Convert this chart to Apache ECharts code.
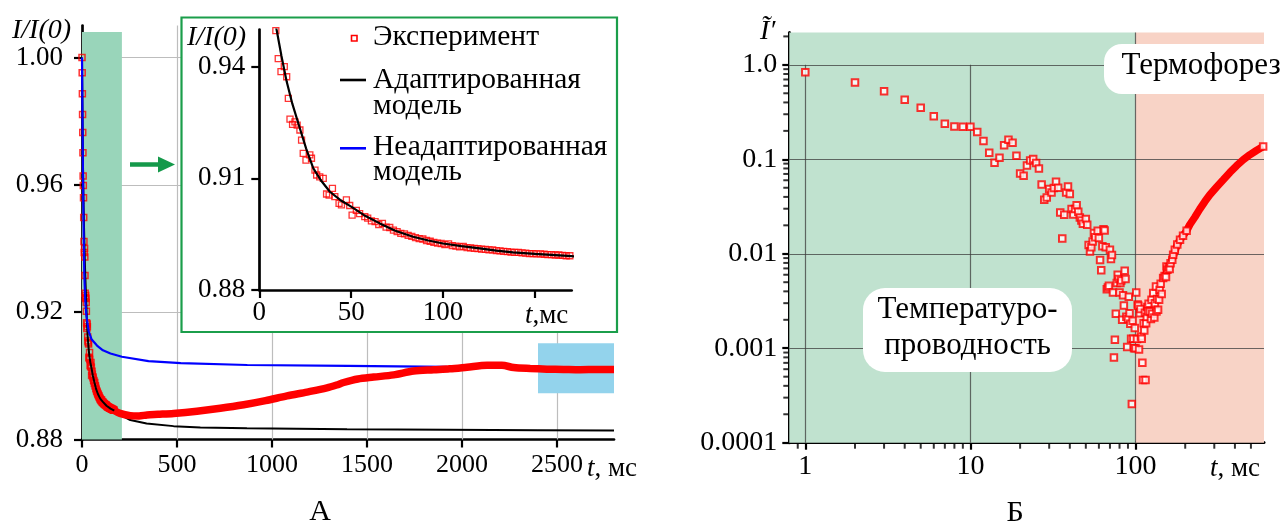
<!DOCTYPE html>
<html><head><meta charset="utf-8">
<script src="https://cdn.jsdelivr.net/npm/echarts@6/dist/echarts.min.js"></script>
<style>html,body{margin:0;padding:0;background:#fff}#c{width:1282px;height:526px}</style>
</head><body><div id="c"></div>
<script>
// ---------- Panel A data (t in ms, I/I(0)) ----------
const expT = [0,1,2,3,4,5,6,7,8,9,10.3,11.8,13.6,14.9,15.8,16.7,18.1,19.4,20.6,22.1,23,23.9,25.4,27.5,28.4,30.3,31.2,32.9,34.8,36.6,38,39.8,41.1,43.4,44.7,47.4,49.2,50.5,52.8,54.6,57.4,
  59,61,63,65,67,69,71,73,75,77,79,81,83,85,87,89,91,93,95,97,99,101,103,105,107,109,111,113,115,117,119,121,123,125,127,129,131,133,135,137,139,141,143,145,147,149,151,153,155,157,159,161,163,165,167,169];
const expV = [1.0,0.9952,0.9886,0.9821,0.9764,0.9701,0.9628,0.9598,0.9559,0.9497,0.9422,0.9387,0.94,0.9373,0.9315,0.9259,0.9245,0.9252,0.9243,0.923,0.9203,0.9167,0.9149,0.9163,0.9154,0.9122,0.9109,0.9104,0.91,0.9058,0.9055,0.9073,0.9051,0.9033,0.9029,0.9042,0.9027,0.9001,0.9014,0.9005,0.8997,
  0.8993,0.8986,0.8984,0.8976,0.8979,0.8969,0.8968,0.8961,0.8957,0.8952,0.8951,0.8947,0.8944,0.8941,0.8938,0.8937,0.8933,0.8931,0.8928,0.8926,0.8925,0.8922,0.8924,0.8919,0.8918,0.8916,0.8917,0.8914,0.8913,0.8912,0.8911,0.891,0.8909,0.8908,0.8908,0.8906,0.8905,0.8904,0.8903,0.8902,0.8901,0.8901,0.89,0.8899,0.8898,0.8898,0.8897,0.8897,0.8896,0.8895,0.8895,0.8894,0.8894,0.8893,0.8892,0.8892];
// dense experimental band, t >= 170 ms
const bandT = [170,200,254,300,342,400,482,605,728,851,966,1079,1184,1289,1340,1377,1452,1535,1640,1745,1851,1935,2026,2132,2210,2272,2359,2447,2535,2622,2711,2800];
const bandV = [0.8891,0.8882,0.8875,0.8874,0.8877,0.8879,0.8882,0.8889,0.8898,0.8909,0.8922,0.8937,0.8949,0.8962,0.8971,0.8979,0.899,0.8996,0.9003,0.9015,0.9019,0.9022,0.9027,0.9033,0.9033,0.9026,0.9023,0.9021,0.902,0.9019,0.902,0.902];
// adapted model (black)
const adaptT = [0,1,2,3,4,5,6,7,8,9.4,12,14.9,18,22.1,25.5,29.4,33.5,38.4,44,50,57,65.6,74,83.7,92,100,110,120,129,138,150,170,200,254,340,482,623,868,1395,1921,2400,2800];
const adaptV = [1.0,0.993,0.986,0.979,0.973,0.967,0.962,0.958,0.954,0.950,0.943,0.936,0.930,0.9234,0.918,0.9127,0.9095,0.9064,0.9042,0.9024,0.9001,0.8979,0.8959,0.8943,0.8933,0.8925,0.8918,0.8912,0.8906,0.8901,0.8897,0.8891,0.8878,0.8861,0.885,0.8842,0.8838,0.8835,0.8832,0.8831,0.8829,0.8828];
// non-adapted model (blue)
const nonT = [0,2,5,8,12,17,23,35,50,79,110,150,210,350,520,870,1400,1920,2400,2800];
const nonV = [1.0,0.985,0.965,0.948,0.932,0.924,0.919,0.914,0.9115,0.9095,0.908,0.907,0.906,0.9046,0.904,0.9034,0.9031,0.9028,0.9026,0.9025];
// ticks
const xTicksA = [0,500,1000,1500,2000,2500];
const yTicksA = [0.88,0.92,0.96,1.00];
const xTicksIn = [0,50,100,150];
const xLabelsIn = [0,50,100];
const yTicksIn = [0.88,0.91,0.94];

// ---------- Panel B data (t in ms, derivative) ----------
const bT = [1,2,3,4,5,6,7,8,9,10,11,12,13,14,15,16,17,18,19,20,21,22,23,24,25,26,27,28,29,30,31,32,33,34,35,36,37,38,39,40,41,42,43,44,45,46,47,48,50,51,52,53,54,55,56,57,59,60,61,62,63,64,65,66,67,68,69,70,71,72,73,74,75,76,77,78,79,80,81,82,83,84,85,86,87,88,89,90,91,92,93,94,95,96,97,98,99,100,101,102,103,104,105,106,107,108,109,110,111,112,113,114,115,116,117,118,119,120,122,124,125,126,128,130,131,133,134,135,137,139,140,142,144,147,150,153,154,156,159,161,163,167,169,173,179,186,194,204,593];
const bV = [0.837,0.650,0.526,0.426,0.351,0.286,0.238,0.222,0.221,0.221,0.194,0.156,0.117,0.0918,0.104,0.141,0.161,0.150,0.109,0.0708,0.0669,0.0861,0.0972,0.1005,0.0912,0.080,0.0542,0.0373,0.0395,0.0484,0.0445,0.0496,0.0578,0.0499,0.0273,0.0145,0.0259,0.0445,0.0515,0.0428,0.0297,0.026,0.0297,0.0327,0.0278,0.0242,0.0225,0.0208,0.0233,0.0203,0.0124,0.0106,0.0117,0.0135,0.0166,0.015,0.0175,0.0147,0.00857,0.00671,0.012,0.0182,0.0176,0.0117,0.0042,0.0044,0.0046,0.011,0.0088,0.0097,0.0039,0.0008,0.00123,0.00232,0.0049,0.006,0.0054,0.0039,0.0049,0.0052,0.002,0.00363,0.00283,0.0066,0.0054,0.00216,0.00103,0.00204,0.0035,0.00235,0.00182,0.00126,0.000257,0.00196,0.00126,0.001,0.00164,0.001,0.0039,0.00125,0.0029,0.00282,0.000967,0.00235,0.0026,0.00133,0.00126,0.0007,0.00046,0.00184,0.00154,0.00237,0.00046,0.00184,0.00214,0.00273,0.00245,0.00296,0.00245,0.00204,0.00326,0.00232,0.00384,0.00211,0.0030,0.00451,0.00245,0.00332,0.00255,0.00326,0.00417,0.00482,0.00375,0.00553,0.0058,0.00567,0.00734,0.00678,0.0072,0.0069,0.00796,0.00864,0.00976,0.011,0.0125,0.0141,0.0155,0.0175,0.1367];
const bBandT = [150,161,169,178,186,194,204,213,229,245,263,282,310,340,373,409,449,492,540,593];
const bBandV = [0.0058,0.0075,0.0093,0.0122,0.0141,0.0155,0.0175,0.0203,0.0245,0.0297,0.0357,0.0421,0.0508,0.0607,0.0726,0.0854,0.0989,0.1116,0.124,0.1367];
const xTicksB = [1,10,100];
const yTicksB = [0.0001,0.001,0.01,0.1,1];
// minor log ticks (axis decoration)
const xMinorB = [0.9]; const yMinorB = [];
[1,10,100].forEach(d=>{for(let k=2;k<=9;k++){const v=k*d; if(v<600) xMinorB.push(v);}});
[0.0001,0.001,0.01,0.1,1].forEach(d=>{for(let k=2;k<=9;k++){const v=+(k*d).toPrecision(3); if(v<2.2) yMinorB.push(v);}});

const zip = (a,b)=>a.map((t,i)=>[t,b[i]]);
const SERIF = '"Liberation Serif","Times New Roman",serif';
const RED = '#ff0000';

const chart = echarts.init(document.getElementById('c'), null, {renderer:'canvas'});
const lbl = (o)=>Object.assign({fontSize:27, fontFamily:SERIF, color:'#000'}, o);
const axLine = (w)=>({show:true, lineStyle:{color:'#000', width:w}});

function txt(x,y,text,size,opts){
  opts = opts||{};
  return {type:'text', x:x, y:y, z:opts.z||10, style:{text:text, fontSize:size, fontFamily:SERIF, fontStyle:opts.italic?'italic':'normal', fill:'#000',
    align:opts.align||'left', textAlign:opts.align||'left', verticalAlign:'middle', textVerticalAlign:'middle',
    rich:{i:{fontStyle:'italic', fontSize:size, fontFamily:SERIF}}}};
}

const option = {
  animation:false,
  grid:[
    {left:82, top:25.6, width:532, height:413.9},
    {left:259.3, top:29.5, width:312.4, height:260.5},
    {left:789.3, top:32.5, width:474.7, height:410.2}
  ],
  xAxis:[
    {gridIndex:0, type:'value', min:0, max:2800, axisLine:axLine(2.7),
     axisTick:{customValues:xTicksA, length:8, lineStyle:{width:2.2,color:'#000'}},
     axisLabel:lbl({customValues:xTicksA, margin:13, fontSize:26, formatter:v=>String(v)}), splitLine:{show:false}},
    {gridIndex:1, type:'value', min:0, max:170, z:4, axisLine:axLine(2.7),
     axisTick:{customValues:xTicksIn, length:8, lineStyle:{width:2.2,color:'#000'}},
     axisLabel:lbl({customValues:xLabelsIn, margin:9, formatter:v=>String(v)}), splitLine:{show:false}},
    {gridIndex:2, type:'log', logBase:10, min:0.8, max:600, axisLine:axLine(3),
     axisTick:{customValues:xTicksB, length:7, lineStyle:{width:2.2,color:'#000'}},
     axisLabel:lbl({customValues:xTicksB, margin:10, fontSize:28, formatter:v=>String(v)}), splitLine:{show:false}, minorTick:{show:false}}
  ],
  yAxis:[
    {gridIndex:0, type:'value', min:0.88, max:1.01, axisLine:axLine(2.7),
     axisTick:{customValues:yTicksA, length:8, lineStyle:{width:2.2,color:'#000'}},
     axisLabel:lbl({customValues:yTicksA, margin:19, formatter:v=>v.toFixed(2)}), splitLine:{show:false}},
    {gridIndex:1, type:'value', min:0.88, max:0.95, z:4, axisLine:axLine(2.7),
     axisTick:{customValues:yTicksIn, length:8, lineStyle:{width:2.2,color:'#000'}},
     axisLabel:lbl({customValues:yTicksIn, margin:14, formatter:v=>v.toFixed(2)}), splitLine:{show:false}},
    {gridIndex:2, type:'log', logBase:10, min:0.0001, max:2.2, axisLine:axLine(3),
     axisTick:{customValues:yTicksB, length:7, lineStyle:{width:2.2,color:'#000'}},
     axisLabel:lbl({customValues:yTicksB, margin:12, fontSize:28, formatter:v=>(v===1?'1.0':String(v))}), splitLine:{show:false}}
  ],
  series:[
    // Panel A: gridlines + shaded regions
    {type:'scatter', xAxisIndex:0, yAxisIndex:0, data:[], z:1, silent:true,
     markLine:{silent:true, z:0.5, symbol:['none','none'], label:{show:false}, lineStyle:{color:'#bdbdbd', width:1.2, type:'solid'},
       data: xTicksA.slice(1).map(v=>[{coord:[v,0.88]},{coord:[v,1.01]}]).concat(
             yTicksA.slice(1).map(v=>[{coord:[0,v]},{coord:[2800,v]}]))},
     markArea:{silent:true, z:1, data:[
       [{coord:[0,0.88], itemStyle:{color:'#99d5ba'}},{coord:[210,1.008]}],
       [{coord:[2400,0.8945], itemStyle:{color:'#93d3ec'}},{coord:[2800,0.9102]}]
     ]}},
    {name:'Эксперимент', type:'scatter', xAxisIndex:0, yAxisIndex:0, z:2, symbol:'rect', symbolSize:6,
     itemStyle:{color:'rgba(255,255,255,0)', borderColor:RED, borderWidth:1.5}, data:zip(expT,expV)},
    {name:'Адаптированная модель', type:'line', xAxisIndex:0, yAxisIndex:0, z:3, symbol:'none',
     lineStyle:{color:'#000', width:2}, data:zip(adaptT,adaptV)},
    {name:'Неадаптированная модель', type:'line', xAxisIndex:0, yAxisIndex:0, z:3, symbol:'none',
     lineStyle:{color:'#0000ff', width:2.2}, data:zip(nonT,nonV)},
    {type:'line', xAxisIndex:0, yAxisIndex:0, z:4, showSymbol:false, symbol:'none', smooth:0.3,
     lineStyle:{color:RED, width:7.5}, data:zip(bandT,bandV)},
    // Inset
    {type:'scatter', xAxisIndex:1, yAxisIndex:1, z:5, symbol:'rect', symbolSize:6, clip:true,
     itemStyle:{color:'rgba(255,255,255,0)', borderColor:RED, borderWidth:1.3}, data:zip(expT,expV)},
    {type:'line', xAxisIndex:1, yAxisIndex:1, z:6, symbol:'none', clip:true,
     lineStyle:{color:'#000', width:2.2}, data:zip(adaptT,adaptV)},
    // Panel B: shading + grid lines
    {type:'scatter', xAxisIndex:2, yAxisIndex:2, data:[], z:1, silent:true,
     markArea:{silent:true, z:0.5, data:[
       [{coord:[0.8,0.0001], itemStyle:{color:'#c0e2cf'}},{coord:[100,2.2]}],
       [{coord:[100,0.0001], itemStyle:{color:'#f8d3c6'}},{coord:[600,2.2]}]
     ]},
     markLine:{silent:true, z:1, symbol:['none','none'], label:{show:false}, lineStyle:{color:'rgba(60,60,60,0.75)', width:1.2, type:'solid'},
       data:[[{coord:[1,0.0001]},{coord:[1,1]}],[{coord:[10,0.0001]},{coord:[10,1]}],[{coord:[100,0.0001]},{coord:[100,2.2]}]].concat(
            yTicksB.slice(1).map(v=>[{coord:[0.8,v]},{coord:[600,v]}]))}},
    // minor ticks drawn as small bars at the axis positions
    {type:'scatter', xAxisIndex:2, yAxisIndex:2, z:6, silent:true, clip:false, symbol:'rect', symbolSize:[2,5], symbolOffset:[0,3.5],
     itemStyle:{color:'#000'}, data:xMinorB.map(v=>[v,0.0001])},
    {type:'scatter', xAxisIndex:2, yAxisIndex:2, z:6, silent:true, clip:false, symbol:'rect', symbolSize:[5,2], symbolOffset:[-3.5,0],
     itemStyle:{color:'#000'}, data:yMinorB.map(v=>[0.8,v])},
    {type:'line', xAxisIndex:2, yAxisIndex:2, z:2, symbol:'none', lineStyle:{color:RED, width:7.5}, data:zip(bBandT,bBandV)},
    {type:'scatter', xAxisIndex:2, yAxisIndex:2, z:3, symbol:'rect', symbolSize:6.5,
     itemStyle:{color:'#ffffff', borderColor:RED, borderWidth:2}, data:zip(bT,bV)}
  ],
  graphic:[
    {type:'rect', z:1, shape:{x:181.5,y:17.5,width:435.5,height:314.5}, style:{fill:'#fff', stroke:'#1b9e4b', lineWidth:2.2}},
    {type:'line', z:1, shape:{x1:130,y1:164.5,x2:161,y2:164.5}, style:{stroke:'#14994a', lineWidth:4.5}},
    {type:'polygon', z:1, shape:{points:[[158,156.5],[175,164.5],[158,172.5]]}, style:{fill:'#14994a'}},
    // legend
    {type:'rect', z:10, shape:{x:351.5,y:35.5,width:5.5,height:5.5}, style:{fill:'#fff', stroke:RED, lineWidth:1.6}},
    txt(373,37,'Эксперимент',29.5),
    {type:'line', z:10, shape:{x1:340,y1:80,x2:366,y2:80}, style:{stroke:'#000', lineWidth:2.6}},
    txt(373,80,'Адаптированная',29.5),
    txt(373,106,'модель',29.5),
    {type:'line', z:10, shape:{x1:340,y1:148.3,x2:366,y2:148.3}, style:{stroke:'#0000ff', lineWidth:2.6}},
    txt(373,147.7,'Неадаптированная',29.5),
    txt(373,172.7,'модель',29.5),
    // axis titles
    txt(12,31,'I/I(0)',28,{italic:true}),
    txt(187,37.5,'I/I(0)',28,{italic:true}),
    txt(525,316,'{i|t},мс',27),
    txt(587,469,'{i|t}, мс',27),
    txt(760,32,'Ĩ′',28,{italic:true}),
    txt(1210,469,'{i|t}, мс',27),
    txt(320,512,'А',30,{align:'center'}),
    txt(1015,513,'Б',30,{align:'center'}),
    // region labels
    {type:'rect', z:8, shape:{x:1104,y:44,width:200,height:50,r:18}, style:{fill:'#fff'}},
    txt(1121.5,66,'Термофорез',31),
    {type:'rect', z:8, shape:{x:863,y:288,width:209,height:84,r:22}, style:{fill:'#fff'}},
    txt(967.5,309.5,'Температуро-',31,{align:'center'}),
    txt(967.5,346,'проводность',31,{align:'center'})
  ]
};
chart.setOption(option);
</script></body></html>
